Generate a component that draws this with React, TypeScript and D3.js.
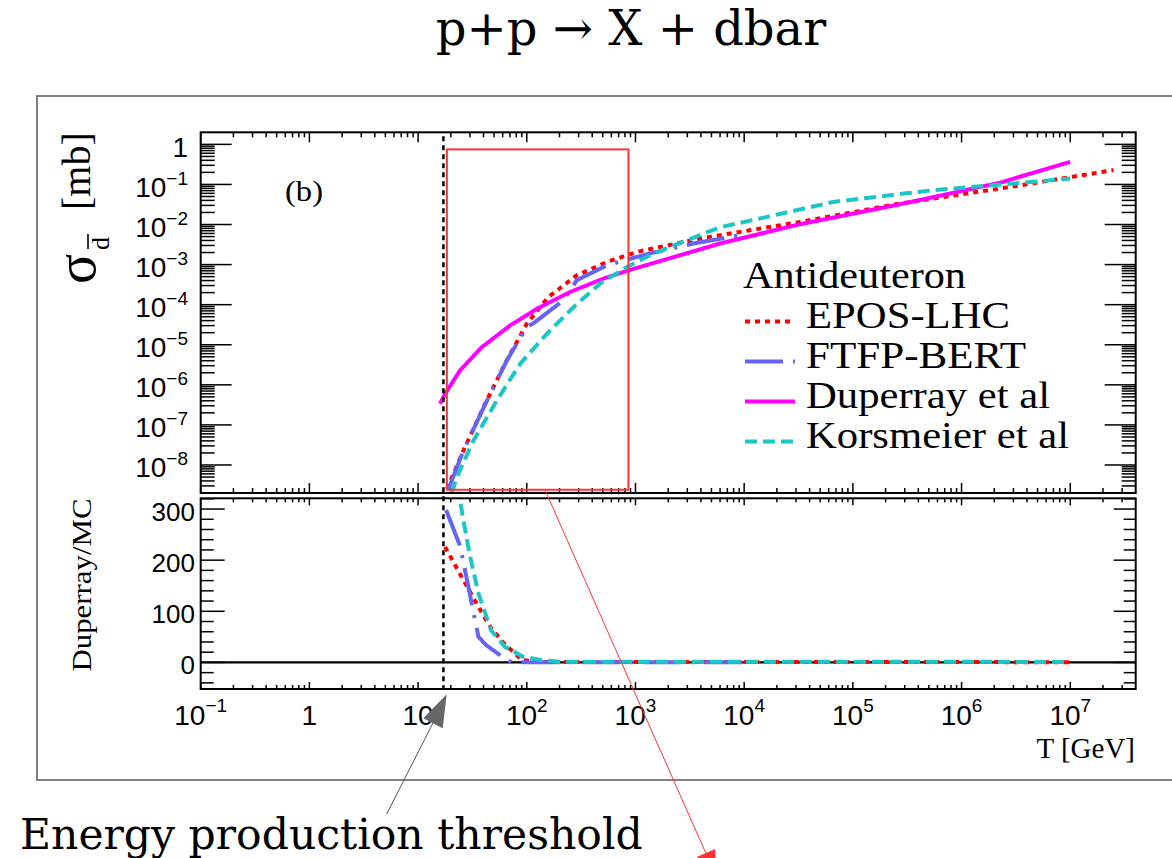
import React from 'react';
import * as d3 from 'd3';

const W = 1172;
const H = 858;

// ---------- data ----------
const eposT = [18.4, 26.1, 39.9, 63, 100, 158, 288, 545, 1030, 3940, 32700, 272000, 2.27e6, 2.5e7];
const eposSigma = [2.5e-9, 2.28e-8, 2.75e-7, 3.35e-6, 3.35e-5, 1.55e-4, 5.4e-4, 1.16e-3, 2.07e-3, 4.47e-3, 1.16e-2, 3.35e-2, 7.9e-2, 0.228];

const ftfpT = [19.0, 26.1, 41.3, 65.5, 100, 119, 217, 288, 545, 1330, 3410, 9200];
const ftfpSigma = [2.5e-9, 2.28e-8, 3.2e-7, 4.07e-6, 2.75e-5, 3.67e-5, 1.28e-4, 4.05e-4, 9.6e-4, 1.88e-3, 3.35e-3, 5.4e-3];

const duperrayT = [15.9, 17.7, 24.3, 38.5, 70, 124, 250, 507, 861, 6010, 32700, 272000, 2.27e6, 1e7];
const duperraySigma = [3.35e-7, 5.96e-7, 2.29e-6, 8.7e-6, 3.0e-5, 7.9e-5, 2.07e-4, 4.47e-4, 7.2e-4, 3.35e-3, 1.02e-2, 3.2e-2, 0.111, 0.367];

const korsT = [20.4, 22.7, 32.3, 53, 86.9, 153, 269, 473, 832, 1460, 2970, 6010, 16200, 66400, 5.52e5, 4.6e6, 1e7];
const korsSigma = [2.0e-9, 4.9e-9, 4.05e-8, 4.05e-7, 3.35e-6, 1.88e-5, 8.7e-5, 3.35e-4, 8.7e-4, 1.88e-3, 4.05e-3, 8.56e-3, 1.55e-2, 3.67e-2, 7.2e-2, 0.116, 0.141];

// ratio Duperray / MC
const ratioEposT = [17.7, 26.1, 35.9, 45.9, 61.8, 90.6, 133, 1e7];
const ratioEpos = [226, 161, 109, 70, 37, 4.5, 1, 0.5];
const ratioFtfpT = [18.1, 24.3, 28.2, 35.9, 42.2, 65.9, 73.2, 1e4];
const ratioFtfp = [298, 228, 161, 50, 34, 4.5, 0.5, 0.5];
const ratioKorsT = [23, 24.3, 26.1, 30.1, 35.9, 46.9, 63.1, 92.5, 138, 203, 1e7];
const ratioKors = [345, 318, 278, 207, 135, 63, 30.5, 11, 4.5, 1.5, 1];

const thresholdT = 17.1;

// ticks / labels
const xTickExps = [-1, 0, 1, 2, 3, 4, 5, 6, 7];
const yTopTickExps = [0, -1, -2, -3, -4, -5, -6, -7, -8];
const ratioTicks = [0, 100, 200, 300];
const legendTitle = 'Antideuteron';
const legendNames = ['EPOS-LHC', 'FTFP-BERT', 'Duperray et al', 'Korsmeier et al'];

// zoom box annotation (data coords)
const boxT = [18.4, 861];
const boxSigma = [2.41e-9, 0.75];

// ---------- layout ----------
const X0 = 200.7, X1 = 1135.7;
const TOP0 = 132.3, TOP1 = 493;
const BOT0 = 498.3, BOT1 = 689;

const x = d3.scaleLog().domain([0.1, 4e7]).range([X0, X1]);
const yTop = d3.scaleLog().domain([2e-9, 2]).range([TOP1, TOP0]);
const yRat = d3.scaleLinear().domain([-52, 321]).range([BOT1, BOT0]);

const RED = '#ff0000';
const BLUE = '#6464f5';
const MAG = '#ff00ff';
const CYAN = '#1cc6c6';

const series = [
  { name: legendNames[0], color: RED, dash: '5,5', T: eposT, S: eposSigma, rT: ratioEposT, r: ratioEpos },
  { name: legendNames[1], color: BLUE, dash: '38,10,3,10', T: ftfpT, S: ftfpSigma, rT: ratioFtfpT, r: ratioFtfp },
  { name: legendNames[2], color: MAG, dash: '', T: duperrayT, S: duperraySigma, rT: null, r: null },
  { name: legendNames[3], color: CYAN, dash: '12,6', T: korsT, S: korsSigma, rT: ratioKorsT, r: ratioKors },
];

const SERIF = '"Liberation Serif", "Times New Roman", serif';
const SANS = '"Liberation Sans", Arial, sans-serif';
const DJ = '"DejaVu Serif", serif';

function lineTop(T: number[], S: number[]) {
  return d3.line<number>().x((d) => x(d)).y((_, i) => yTop(S[i]))(T) || '';
}
function lineRat(T: number[], R: number[]) {
  return d3.line<number>().x((d) => x(d)).y((_, i) => yRat(R[i]))(T) || '';
}

const xMinor: number[] = [];
for (let e = -1; e <= 7; e++) for (let k = 2; k <= 9; k++) { const v = k * Math.pow(10, e); if (v < 4e7) xMinor.push(v); }
const yMinor: number[] = [];
for (let e = -9; e <= 0; e++) for (let k = 2; k <= 9; k++) { const v = k * Math.pow(10, e); if (v > 2.05e-9 && v < 1.95) yMinor.push(v); }
const rMinor: number[] = [];
for (let v = -40; v <= 320; v += 20) if (v % 100 !== 0) rMinor.push(v);

function PowText({ exp, x: px, y: py, anchor, size, supSize, dy }: any) {
  if (exp === 0) return <text x={px} y={py} textAnchor={anchor} fontFamily={SANS} fontSize={size}>1</text>;
  if (exp === 1) return <text x={px} y={py} textAnchor={anchor} fontFamily={SANS} fontSize={size}>10</text>;
  const s = exp < 0 ? '\u2212' + Math.abs(exp) : String(exp);
  return (
    <text x={px} y={py} textAnchor={anchor} fontFamily={SANS} fontSize={size}>
      10<tspan dy={dy} fontSize={supSize}>{s}</tspan>
    </text>
  );
}

export default function App() {
  const tickStroke = { stroke: '#000', strokeWidth: 1.5 };
  return (
    <svg width={W} height={H} style={{ position: 'absolute', left: 0, top: 0, background: '#fff' }}>
      <defs>
        <clipPath id="clipTop"><rect x={X0} y={TOP0} width={X1 - X0} height={TOP1 - TOP0} /></clipPath>
        <clipPath id="clipBot"><rect x={X0} y={BOT0} width={X1 - X0} height={BOT1 - BOT0} /></clipPath>
      </defs>
      <rect x={0} y={0} width={W} height={H} fill="#fff" />

      {/* title */}
      <text x={631} y={45} textAnchor="middle" fontFamily={DJ} fontSize={48}>p+p → X + dbar</text>

      {/* outer gray frame */}
      <rect x={37} y={96} width={1160} height={684} fill="none" stroke="#808080" strokeWidth={2} />

      {/* ===== top panel ===== */}
      <g>
        {xTickExps.map((e) => {
          const px = x(Math.pow(10, e));
          return <g key={'tx' + e}>
            <line x1={px} x2={px} y1={TOP1} y2={TOP1 - 10} {...tickStroke} />
            <line x1={px} x2={px} y1={TOP0} y2={TOP0 + 10} {...tickStroke} />
          </g>;
        })}
        {xMinor.map((v, i) => {
          const px = x(v);
          return <g key={'txm' + i}>
            <line x1={px} x2={px} y1={TOP1} y2={TOP1 - 5} {...tickStroke} />
            <line x1={px} x2={px} y1={TOP0} y2={TOP0 + 5} {...tickStroke} />
          </g>;
        })}
        {yTopTickExps.map((e) => {
          const py = yTop(Math.pow(10, e));
          return <g key={'ty' + e}>
            <line x1={X0} x2={X0 + 31} y1={py} y2={py} {...tickStroke} />
            <line x1={X1} x2={X1 - 31} y1={py} y2={py} {...tickStroke} />
            <PowText exp={e} x={188} y={py + 12.5} anchor="end" size={28} supSize={19} dy={-12} />
          </g>;
        })}
        {yMinor.map((v, i) => {
          const py = yTop(v);
          return <g key={'tym' + i}>
            <line x1={X0} x2={X0 + 14} y1={py} y2={py} {...tickStroke} />
            <line x1={X1} x2={X1 - 14} y1={py} y2={py} {...tickStroke} />
          </g>;
        })}
        <g clipPath="url(#clipTop)">
          {series.map((s) => (
            <path key={'c' + s.name} d={lineTop(s.T, s.S)} fill="none" stroke={s.color} strokeWidth={4}
              strokeDasharray={s.dash || undefined} />
          ))}
        </g>
        <rect x={X0} y={TOP0} width={X1 - X0} height={TOP1 - TOP0} fill="none" stroke="#000" strokeWidth={2} />
      </g>

      {/* (b) */}
      <text x={285} y={201} fontFamily={SERIF} fontSize={30} textLength={38} lengthAdjust="spacingAndGlyphs">(b)</text>

      {/* legend */}
      <text x={743} y={288} fontFamily={SERIF} fontSize={37} textLength={223} lengthAdjust="spacingAndGlyphs">{legendTitle}</text>
      {series.map((s, i) => {
        const by = 328 + i * 40;
        const widths = [204, 220, 244, 263];
        return <g key={'lg' + i}>
          <line x1={745} x2={795} y1={by - 6.5} y2={by - 6.5} stroke={s.color} strokeWidth={4} strokeDasharray={s.dash || undefined} />
          <text x={806} y={by} fontFamily={SERIF} fontSize={37} textLength={widths[i]} lengthAdjust="spacingAndGlyphs">{s.name}</text>
        </g>;
      })}

      {/* y label top: sigma_dbar [mb] */}
      <g transform="translate(95,0) rotate(-90)">
        <text x={-284} y={0} fontFamily={SERIF} fontSize={56}>σ</text>
      </g>
      <g transform="translate(109,0) rotate(-90)">
        <text x={-250} y={0} fontFamily={SERIF} fontSize={26}>d</text>
        <line x1={-249} x2={-234} y1={-21} y2={-21} stroke="#000" strokeWidth={1.6} />
      </g>
      <g transform="translate(90,0) rotate(-90)">
        <text x={-210} y={0} fontFamily={SERIF} fontSize={40}>[mb]</text>
      </g>

      {/* ===== bottom panel ===== */}
      <g>
        {xTickExps.map((e) => {
          const px = x(Math.pow(10, e));
          return <g key={'bx' + e}>
            <line x1={px} x2={px} y1={BOT1} y2={BOT1 - 7} {...tickStroke} />
            <line x1={px} x2={px} y1={BOT0} y2={BOT0 + 7} {...tickStroke} />
            <PowText exp={e} x={px} y={725} anchor="middle" size={28} supSize={19} dy={-13} />
          </g>;
        })}
        {xMinor.map((v, i) => {
          const px = x(v);
          return <g key={'bxm' + i}>
            <line x1={px} x2={px} y1={BOT1} y2={BOT1 - 4} {...tickStroke} />
            <line x1={px} x2={px} y1={BOT0} y2={BOT0 + 4} {...tickStroke} />
          </g>;
        })}
        {ratioTicks.map((v) => {
          const py = yRat(v);
          return <g key={'ry' + v}>
            <line x1={X0} x2={X0 + 24} y1={py} y2={py} {...tickStroke} />
            <line x1={X1} x2={X1 - 22} y1={py} y2={py} {...tickStroke} />
            <text x={195} y={py + 11.7} textAnchor="end" fontFamily={SANS} fontSize={26}>{v}</text>
          </g>;
        })}
        {rMinor.map((v) => {
          const py = yRat(v);
          return <g key={'rym' + v}>
            <line x1={X0} x2={X0 + 13} y1={py} y2={py} {...tickStroke} />
            <line x1={X1} x2={X1 - 12} y1={py} y2={py} {...tickStroke} />
          </g>;
        })}
        <line x1={X0} x2={X1} y1={yRat(0)} y2={yRat(0)} stroke="#000" strokeWidth={2.2} />
        <g clipPath="url(#clipBot)">
          {series.filter((s) => s.rT).map((s) => (
            <path key={'r' + s.name} d={lineRat(s.rT as number[], s.r as number[])} fill="none" stroke={s.color}
              strokeWidth={4} strokeDasharray={s.dash || undefined} />
          ))}
        </g>
        <rect x={X0} y={BOT0} width={X1 - X0} height={BOT1 - BOT0} fill="none" stroke="#000" strokeWidth={2} />
      </g>

      {/* y label bottom */}
      <g transform="translate(91,585) rotate(-90)">
        <text x={0} y={0} textAnchor="middle" fontFamily={SERIF} fontSize={28} textLength={173} lengthAdjust="spacingAndGlyphs">Duperray/MC</text>
      </g>

      {/* x label */}
      <text x={1135} y={758} textAnchor="end" fontFamily={SERIF} fontSize={29}>T [GeV]</text>

      {/* threshold line */}
      <line x1={x(thresholdT)} x2={x(thresholdT)} y1={TOP0 + 4} y2={BOT1} stroke="#000" strokeWidth={2.5} strokeDasharray="5,4" />

      {/* red zoom box */}
      <rect x={x(boxT[0])} y={yTop(boxSigma[1])} width={x(boxT[1]) - x(boxT[0])} height={yTop(boxSigma[0]) - yTop(boxSigma[1])}
        fill="none" stroke="#ff3333" strokeWidth={2} />

      {/* red arrow */}
      <line x1={545} y1={490} x2={708} y2={858} stroke="#ff3333" strokeWidth={1} />
      <polygon points="716,876 715.2,849 696.8,857" fill="#ff3333" />

      {/* gray arrow */}
      <line x1={386.7} y1={814} x2={433} y2={723} stroke="#555" strokeWidth={1} />
      <polygon points="446.7,694.3 423.3,718.3 442.7,728.3" fill="#666" />

      {/* annotation text */}
      <text x={20} y={849} fontFamily={DJ} fontSize={42.5}>Energy production threshold</text>
    </svg>
  );
}
